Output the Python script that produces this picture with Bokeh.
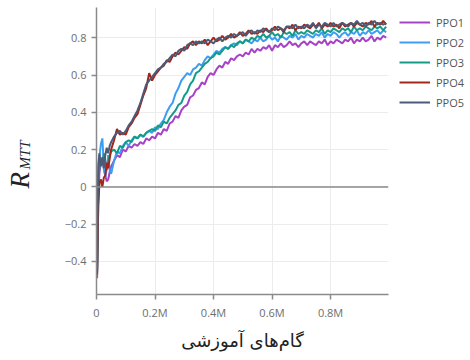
from math import pi
from bokeh.plotting import figure
from bokeh.layouts import row
from bokeh.models import (Range1d, FixedTicker, Span, Legend, LegendItem, Label)
from bokeh.embed import file_html
from bokeh.resources import INLINE

# training steps in millions
steps_M = [0.002, 0.006, 0.01, 0.015, 0.02, 0.025, 0.03, 0.035, 0.04, 0.045, 0.05,
           0.06, 0.07, 0.08, 0.09, 0.10, 0.11, 0.12, 0.13, 0.14, 0.15,
           0.16, 0.17, 0.18, 0.19, 0.20, 0.21, 0.22, 0.23, 0.24, 0.25,
           0.26, 0.27, 0.28, 0.29, 0.30, 0.31, 0.32, 0.33, 0.34, 0.35,
           0.36, 0.37, 0.38, 0.39, 0.40, 0.41, 0.42, 0.43, 0.44, 0.45,
           0.46, 0.47, 0.48, 0.49, 0.50, 0.51, 0.52, 0.53, 0.54, 0.55,
           0.56, 0.57, 0.58, 0.59, 0.60, 0.61, 0.62, 0.63, 0.64, 0.65,
           0.66, 0.67, 0.68, 0.69, 0.70, 0.71, 0.72, 0.73, 0.74, 0.75,
           0.76, 0.77, 0.78, 0.79, 0.80, 0.81, 0.82, 0.83, 0.84, 0.85,
           0.86, 0.87, 0.88, 0.89, 0.90, 0.91, 0.92, 0.93, 0.94, 0.95,
           0.96, 0.97, 0.98, 0.99]

ppo1 = [-0.49, -0.08, 0.08, 0.13, 0.15, 0.10, 0.06, 0.03, 0.04, 0.08, 0.11,
        0.14, 0.17, 0.16, 0.20, 0.19, 0.22, 0.21, 0.23, 0.22, 0.24,
        0.23, 0.26, 0.25, 0.27, 0.26, 0.29, 0.28, 0.31, 0.30, 0.34,
        0.35, 0.38, 0.37, 0.41, 0.43, 0.44, 0.48, 0.49, 0.52, 0.53,
        0.56, 0.55, 0.59, 0.61, 0.60, 0.63, 0.65, 0.64, 0.67, 0.66,
        0.69, 0.68, 0.70, 0.71, 0.70, 0.72, 0.71, 0.74, 0.72, 0.74,
        0.73, 0.75, 0.74, 0.76, 0.73, 0.76, 0.75, 0.77, 0.75, 0.76,
        0.78, 0.76, 0.77, 0.75, 0.77, 0.78, 0.76, 0.78, 0.77, 0.76,
        0.78, 0.77, 0.79, 0.76, 0.78, 0.77, 0.79, 0.78, 0.77, 0.79,
        0.78, 0.80, 0.77, 0.79, 0.78, 0.80, 0.78, 0.79, 0.81, 0.78,
        0.80, 0.79, 0.81, 0.80]

ppo2 = [-0.45, 0.06, 0.16, 0.23, 0.26, 0.12, 0.05, 0.10, 0.17, 0.09, 0.07,
        0.14, 0.19, 0.18, 0.22, 0.24, 0.22, 0.25, 0.27, 0.26, 0.28,
        0.27, 0.29, 0.30, 0.29, 0.32, 0.31, 0.34, 0.36, 0.40, 0.43,
        0.45, 0.50, 0.53, 0.57, 0.59, 0.61, 0.60, 0.63, 0.64, 0.66,
        0.65, 0.68, 0.70, 0.69, 0.71, 0.73, 0.72, 0.74, 0.75, 0.74,
        0.76, 0.77, 0.76, 0.78, 0.77, 0.79, 0.78, 0.77, 0.79, 0.78,
        0.80, 0.78, 0.79, 0.81, 0.79, 0.80, 0.78, 0.81, 0.80, 0.79,
        0.81, 0.80, 0.82, 0.79, 0.81, 0.80, 0.82, 0.81, 0.80, 0.82,
        0.81, 0.83, 0.80, 0.82, 0.81, 0.83, 0.82, 0.80, 0.82, 0.83,
        0.81, 0.83, 0.82, 0.84, 0.81, 0.83, 0.82, 0.84, 0.82, 0.83,
        0.84, 0.82, 0.84, 0.83]

ppo3 = [-0.46, 0.00, 0.10, 0.15, 0.12, 0.18, 0.14, 0.09, 0.13, 0.17, 0.19,
        0.20, 0.18, 0.22, 0.21, 0.24, 0.25, 0.24, 0.27, 0.26, 0.28,
        0.27, 0.29, 0.30, 0.31, 0.30, 0.33, 0.32, 0.35, 0.34, 0.37,
        0.39, 0.41, 0.44, 0.45, 0.49, 0.51, 0.55, 0.57, 0.61, 0.62,
        0.64, 0.66, 0.67, 0.69, 0.70, 0.72, 0.71, 0.73, 0.75, 0.74,
        0.76, 0.75, 0.77, 0.78, 0.77, 0.79, 0.78, 0.80, 0.79, 0.81,
        0.80, 0.82, 0.80, 0.81, 0.83, 0.81, 0.82, 0.80, 0.83, 0.82,
        0.83, 0.81, 0.84, 0.82, 0.83, 0.82, 0.84, 0.83, 0.82, 0.84,
        0.83, 0.85, 0.82, 0.84, 0.83, 0.85, 0.84, 0.83, 0.85, 0.84,
        0.85, 0.83, 0.86, 0.84, 0.85, 0.84, 0.86, 0.85, 0.84, 0.86,
        0.85, 0.86, 0.84, 0.86]

ppo4 = [-0.47, -0.10, 0.02, 0.04, 0.00, 0.05, 0.06, 0.13, 0.10, 0.15, 0.20,
        0.25, 0.31, 0.28, 0.29, 0.28, 0.32, 0.34, 0.37, 0.39, 0.44,
        0.49, 0.53, 0.61, 0.57, 0.60, 0.62, 0.64, 0.65, 0.68, 0.67,
        0.70, 0.72, 0.71, 0.73, 0.75, 0.74, 0.77, 0.78, 0.76, 0.78,
        0.77, 0.79, 0.76, 0.78, 0.80, 0.78, 0.79, 0.81, 0.79, 0.80,
        0.82, 0.80, 0.81, 0.83, 0.81, 0.82, 0.84, 0.82, 0.83, 0.82,
        0.84, 0.83, 0.85, 0.83, 0.84, 0.86, 0.84, 0.85, 0.83, 0.86,
        0.85, 0.87, 0.84, 0.86, 0.85, 0.87, 0.86, 0.85, 0.87, 0.86,
        0.88, 0.85, 0.87, 0.86, 0.88, 0.86, 0.87, 0.85, 0.88, 0.86,
        0.87, 0.88, 0.86, 0.88, 0.87, 0.86, 0.88, 0.87, 0.89, 0.86,
        0.88, 0.87, 0.89, 0.87]

ppo5 = [-0.44, 0.12, 0.18, 0.11, 0.16, 0.10, 0.17, 0.21, 0.18, 0.22, 0.24,
        0.27, 0.29, 0.30, 0.28, 0.30, 0.33, 0.35, 0.38, 0.41, 0.45,
        0.50, 0.55, 0.57, 0.59, 0.61, 0.63, 0.64, 0.66, 0.67, 0.69,
        0.71, 0.70, 0.73, 0.74, 0.73, 0.76, 0.77, 0.76, 0.78, 0.77,
        0.78, 0.77, 0.79, 0.78, 0.77, 0.79, 0.80, 0.78, 0.80, 0.81,
        0.80, 0.82, 0.81, 0.82, 0.83, 0.81, 0.83, 0.84, 0.82, 0.84,
        0.83, 0.85, 0.84, 0.83, 0.85, 0.84, 0.86, 0.85, 0.84, 0.86,
        0.86, 0.85, 0.87, 0.85, 0.86, 0.85, 0.87, 0.86, 0.88, 0.85,
        0.87, 0.86, 0.88, 0.87, 0.86, 0.88, 0.86, 0.87, 0.88, 0.87,
        0.86, 0.88, 0.87, 0.89, 0.87, 0.88, 0.86, 0.88, 0.87, 0.89,
        0.87, 0.88, 0.87, 0.88]

series_names = ["PPO1", "PPO2", "PPO3", "PPO4", "PPO5"]
series_values = [ppo1, ppo2, ppo3, ppo4, ppo5]
series_colors = ["#a742c8", "#3d9df2", "#139b88", "#a3261a", "#4b5b77"]

x_ticks = [0, 0.2, 0.4, 0.6, 0.8]
x_tick_labels = ["0", "0.2M", "0.4M", "0.6M", "0.8M"]
y_ticks = [-0.4, -0.2, 0, 0.2, 0.4, 0.6, 0.8]
y_tick_labels = ["\u22120.4", "\u22120.2", "0", "0.2", "0.4", "0.6", "0.8"]

x_title = "گام‌های آموزشی"

TOTAL_H = 353

# ---- narrow figure holding the y title (R with subscript MTT) ----
pl = figure(width=50, height=TOTAL_H, min_border=0,
            x_axis_location=None, y_axis_location=None,
            x_range=Range1d(0, 50), y_range=Range1d(0, TOTAL_H),
            output_backend="svg", toolbar_location=None, tools="")
pl.grid.visible = False
pl.outline_line_color = None
pl.add_layout(Label(x=19, y=106, x_units="screen", y_units="screen",
                    text="R", angle=pi / 2, text_align="left",
                    text_baseline="alphabetic", text_font="Liberation Serif",
                    text_font_style="italic", text_font_size="27px",
                    text_color="#222222"))
pl.add_layout(Label(x=24, y=125, x_units="screen", y_units="screen",
                    text="MTT", angle=pi / 2, text_align="left",
                    text_baseline="alphabetic", text_font="Liberation Serif",
                    text_font_style="italic", text_font_size="15px",
                    text_color="#222222"))

# ---- main chart ----
p = figure(frame_width=292, frame_height=287,
           min_border_left=46, min_border_right=80,
           min_border_top=7, min_border_bottom=TOTAL_H - 7 - 287,
           x_range=Range1d(0, 0.998), y_range=Range1d(-0.577, 0.962),
           output_backend="svg", toolbar_location=None, tools="")
p.outline_line_color = None
p.background_fill_color = "white"
p.border_fill_color = "white"

for ax, ticks, labels in ((p.xaxis[0], x_ticks, x_tick_labels),
                          (p.yaxis[0], y_ticks, y_tick_labels)):
    ax.ticker = FixedTicker(ticks=ticks)
    ax.major_label_overrides = {t: l for t, l in zip(ticks, labels)}
    ax.axis_line_color = "#8a8a8a"
    ax.axis_line_width = 1.5
    ax.major_tick_line_color = "#8a8a8a"
    ax.major_tick_line_width = 1.5
    ax.major_tick_in = 0
    ax.major_tick_out = 5
    ax.minor_tick_line_color = None
    ax.major_label_text_font = "Open Sans"
    ax.major_label_text_font_size = "11px"
    ax.major_label_text_color = "#6e6e6e"
    ax.major_label_standoff = 5

p.xaxis[0].axis_label = x_title
p.xaxis[0].axis_label_text_font = "DejaVu Sans"
p.xaxis[0].axis_label_text_font_style = "normal"
p.xaxis[0].axis_label_text_font_size = "18px"
p.xaxis[0].axis_label_text_color = "#222222"
p.xaxis[0].axis_label_standoff = 7

p.xgrid.ticker = FixedTicker(ticks=x_ticks)
p.ygrid.ticker = FixedTicker(ticks=y_ticks)
p.grid.grid_line_color = "#ececec"
p.grid.grid_line_width = 1

p.add_layout(Span(location=0, dimension="width", line_color="#8a8a8a",
                  line_width=1.5))

items = []
for name, vals, col in zip(series_names, series_values, series_colors):
    r = p.line(steps_M, vals, line_color=col, line_width=2)
    items.append(LegendItem(label=name, renderers=[r]))

legend = Legend(items=items, location=(11, 182),
                glyph_width=31, glyph_height=20, label_height=20,
                spacing=0, label_standoff=6, padding=0, margin=0,
                border_line_color=None, background_fill_alpha=0,
                label_text_font="Open Sans", label_text_font_size="11px",
                label_text_color="#555555")
p.add_layout(legend, "right")

layout = row(pl, p, spacing=0)
open("out.html", "w").write(file_html(layout, INLINE))
